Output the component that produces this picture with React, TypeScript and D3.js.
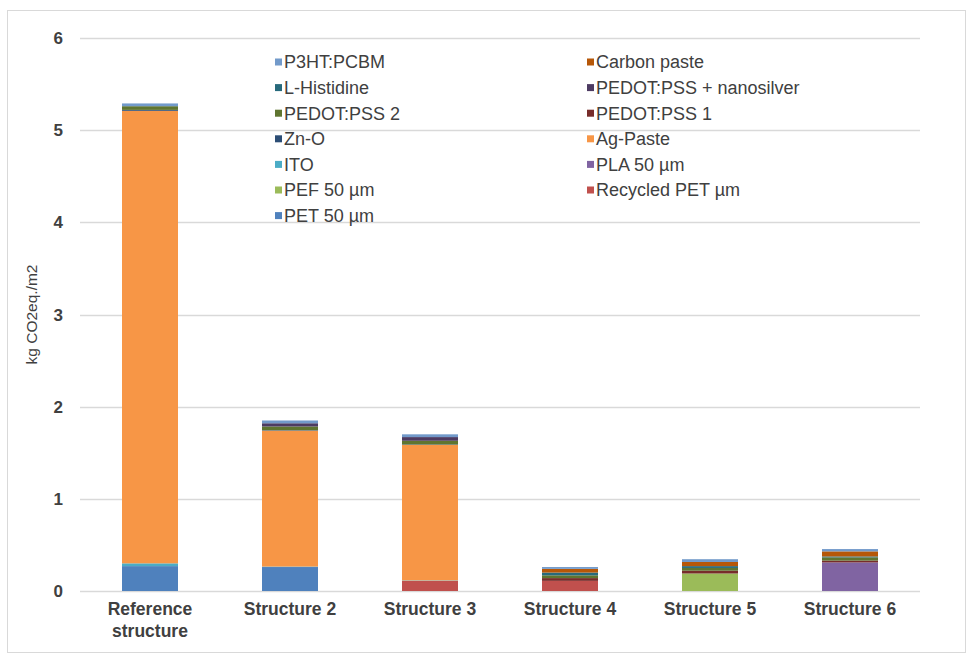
import React from "react";
import * as d3 from "d3";

const categories = ["Reference structure", "Structure 2", "Structure 3", "Structure 4", "Structure 5", "Structure 6"];

// series in stacking order (bottom -> top)
const seriesNames = [
  "PET 50 µm",
  "Recycled PET µm",
  "PEF 50 µm",
  "PLA 50 µm",
  "ITO",
  "Ag-Paste",
  "Zn-O",
  "PEDOT:PSS 1",
  "PEDOT:PSS 2",
  "PEDOT:PSS + nanosilver",
  "L-Histidine",
  "Carbon paste",
  "P3HT:PCBM",
];

const seriesColors = [
  "#4F81BD", "#C0504D", "#9BBB59", "#8064A2", "#4BACC6", "#F79646",
  "#2C4D75", "#772C2A", "#5F7530", "#4D3B62", "#276A7C", "#B65708", "#729ACA",
];

// values per series, one per category
const petValues = [0.27, 0.26, 0, 0, 0, 0];
const recycledPetValues = [0, 0, 0.11, 0.11, 0, 0];
const pefValues = [0, 0, 0, 0, 0.19, 0];
const plaValues = [0, 0, 0, 0, 0, 0.31];
const itoValues = [0.03, 0.005, 0.005, 0, 0, 0];
const agPasteValues = [4.91, 1.475, 1.47, 0, 0, 0];
const znoValues = [0.01, 0.005, 0.005, 0, 0, 0];
const pedot1Values = [0, 0, 0, 0.03, 0.03, 0.02];
const pedot2Values = [0.04, 0.04, 0.04, 0.03, 0.03, 0.035];
const nanosilverValues = [0, 0.035, 0.04, 0, 0, 0];
const histidineValues = [0, 0, 0, 0.03, 0.02, 0.01];
const carbonValues = [0, 0, 0, 0.04, 0.045, 0.055];
const p3htValues = [0.03, 0.03, 0.03, 0.02, 0.03, 0.025];

const seriesValues = [
  petValues, recycledPetValues, pefValues, plaValues, itoValues, agPasteValues,
  znoValues, pedot1Values, pedot2Values, nanosilverValues, histidineValues, carbonValues, p3htValues,
];

const yTicks = [0, 1, 2, 3, 4, 5, 6];

// legend order as shown (row-major, two columns)
const legendOrder = [
  "P3HT:PCBM", "Carbon paste",
  "L-Histidine", "PEDOT:PSS + nanosilver",
  "PEDOT:PSS 2", "PEDOT:PSS 1",
  "Zn-O", "Ag-Paste",
  "ITO", "PLA 50 µm",
  "PEF 50 µm", "Recycled PET µm",
  "PET 50 µm",
];

export default function App() {
  const W = 971, H = 659;
  const plot = { left: 80, right: 920, top: 38, bottom: 591 };
  const x = d3.scaleBand<string>().domain(categories).range([plot.left, plot.right]).paddingInner(0.6).paddingOuter(0.3);
  const y = d3.scaleLinear().domain([0, 6]).range([plot.bottom, plot.top]);

  const table = categories.map((c, i) => {
    const row: any = { category: c };
    seriesNames.forEach((s, j) => (row[s] = seriesValues[j][i]));
    return row;
  });
  const stacked = d3.stack<any>().keys(seriesNames)(table);
  const font = "Arial, 'Liberation Sans', sans-serif";
  const textColor = "#404040";

  const legendRowY = (r: number) => 62 + r * 25.6;

  return (
    <svg width={W} height={H} style={{ position: "absolute", left: 0, top: 0, display: "block" }} fontFamily={font}>
      <rect x={0} y={0} width={W} height={H} fill="#fff" />
      <rect x={7.5} y={10.5} width={958} height={642} fill="none" stroke="#D9D9D9" />
      {yTicks.map((t) => (
        <g key={t}>
          <line x1={plot.left} x2={plot.right} y1={Math.round(y(t)) + 0.5} y2={Math.round(y(t)) + 0.5} stroke="#D9D9D9" strokeWidth={1.3} />
          <text x={63} y={y(t)} dy="0.36em" textAnchor="end" fontSize={17} fontWeight="bold" fill={textColor}>{t}</text>
        </g>
      ))}
      <text transform={`translate(37,${(plot.top + plot.bottom) / 2}) rotate(-90)`} textAnchor="middle" fontSize={15.5} fill={textColor}>kg CO2eq./m2</text>
      {stacked.map((layer, j) => (
        <g key={layer.key} fill={seriesColors[j]}>
          {layer.map((d, i) => {
            const h = y(d[0]) - y(d[1]);
            if (h <= 0) return null;
            return <rect key={i} x={x(categories[i])} y={y(d[1])} width={x.bandwidth()} height={h} />;
          })}
        </g>
      ))}
      {categories.map((c) => {
        const cx = (x(c) as number) + x.bandwidth() / 2;
        const words = c === "Reference structure" ? ["Reference", "structure"] : [c];
        return (
          <text key={c} x={cx} y={615} textAnchor="middle" fontSize={17.5} fontWeight="bold" fill={textColor}>
            {words.map((w, k) => (
              <tspan key={k} x={cx} dy={k === 0 ? 0 : 22}>{w}</tspan>
            ))}
          </text>
        );
      })}
      {legendOrder.map((name, k) => {
        const col = k % 2;
        const row = Math.floor(k / 2);
        const j = seriesNames.indexOf(name);
        const mx = col === 0 ? 275 : 587;
        const cy = legendRowY(row);
        return (
          <g key={name}>
            <rect x={mx} y={cy - 3.5} width={7} height={7} fill={seriesColors[j]} />
            <text x={mx + 9} y={cy} dy="0.36em" fontSize={18} fill={textColor}>{name}</text>
          </g>
        );
      })}
    </svg>
  );
}
